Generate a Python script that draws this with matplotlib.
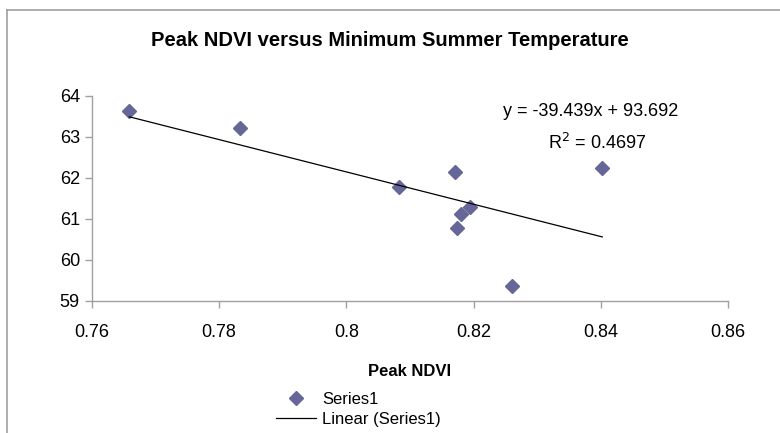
import numpy as np
import matplotlib.pyplot as plt
from matplotlib.lines import Line2D

# Data
peak_ndvi = [0.7659, 0.7833, 0.8082, 0.8171, 0.8174, 0.8180, 0.8195, 0.8260, 0.8402]
min_temp = [63.63, 63.21, 61.77, 62.14, 60.78, 61.11, 61.29, 59.36, 62.23]

# Trendline as reported on the chart
slope = -39.439
intercept = 93.692
r_squared = 0.4697

x_ticks = [0.76, 0.78, 0.80, 0.82, 0.84, 0.86]
x_tick_labels = ['0.76', '0.78', '0.8', '0.82', '0.84', '0.86']
y_ticks = [59, 60, 61, 62, 63, 64]

plt.rcParams['font.family'] = ['Liberation Sans', 'DejaVu Sans']

fig = plt.figure(figsize=(7.8, 4.33), dpi=100)
ax = fig.add_axes([0.1176, 0.3056, 0.8161, 0.4734])

marker_color = '#666699'
axis_color = '#a0a0a0'

# Scatter points
ax.plot(peak_ndvi, min_temp, linestyle='none', marker='D', markersize=7.5,
        color=marker_color, label='Series1')

# Linear trendline over the data range
x_line = np.array([min(peak_ndvi), max(peak_ndvi)])
y_line = slope * x_line + intercept
ax.plot(x_line, y_line, color='black', linewidth=0.9, label='Linear (Series1)')

ax.set_xlim(0.76, 0.86)
ax.set_ylim(59, 64)
ax.set_xticks(x_ticks)
ax.set_xticklabels(x_tick_labels)
ax.set_yticks(y_ticks)

for side in ['top', 'right']:
    ax.spines[side].set_visible(False)
for side in ['left', 'bottom']:
    ax.spines[side].set_color(axis_color)
    ax.spines[side].set_linewidth(1.0)
ax.tick_params(axis='both', direction='out', length=5, width=1.0,
               color=axis_color, labelsize=13)
ax.tick_params(axis='x', pad=11.5)
ax.tick_params(axis='y', pad=3.5)

ax.set_xlabel('Peak NDVI', fontsize=12, fontweight='bold', labelpad=17)

fig.text(0.5, 1 - 40 / 433, 'Peak NDVI versus Minimum Summer Temperature',
         ha='center', va='center', fontsize=14.5, fontweight='bold')

# Trendline equation and R squared
ax.text(591 / 780, 1 - 111 / 433, f'y = {slope}x + {intercept}',
        transform=fig.transFigure, ha='center', va='center', fontsize=13)
ax.text(597 / 780, 1 - 143 / 433, f'R$^2$ = {r_squared}',
        transform=fig.transFigure, ha='center', va='center', fontsize=13)

fig.legend(loc='upper left', bbox_to_anchor=(276 / 780, 1 - 392 / 433),
           frameon=False, fontsize=12, handlelength=2.4, handletextpad=0.35,
           labelspacing=0.28, borderpad=0, borderaxespad=0)

# Chart area border (cropped at right and bottom)
fig.add_artist(Line2D([6.5 / 780, 1.0], [1 - 9.5 / 433, 1 - 9.5 / 433],
                      color=axis_color, linewidth=1.2))
fig.add_artist(Line2D([6.5 / 780, 6.5 / 780], [0.0, 1 - 9.5 / 433],
                      color=axis_color, linewidth=1.2))

fig.savefig('out.png', dpi=100, facecolor='white')
